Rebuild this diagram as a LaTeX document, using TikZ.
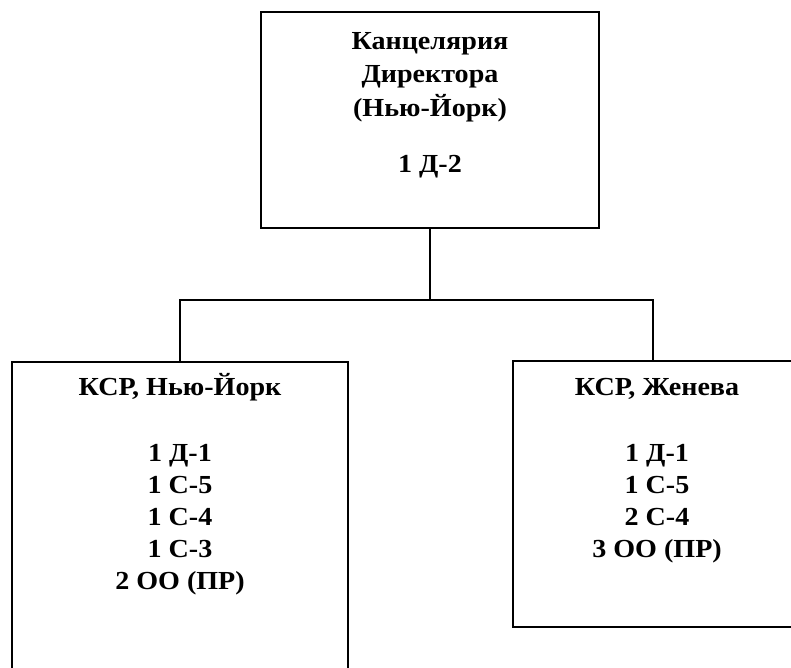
\documentclass[tikz,border=0pt]{standalone}
\usepackage{fontspec}
\setmainfont{Liberation Serif}[FakeStretch=1.08]
\usetikzlibrary{positioning}

\begin{document}
\begin{tikzpicture}[x=1pt,y=1pt,
  box/.style={draw,rectangle,line width=1.6pt,inner sep=0pt},
  txt/.style={align=center,inner sep=0pt,font=\bfseries\fontsize{26}{32}\selectfont}]
\useasboundingbox (0,0) rectangle (791,668);
\clip (0,0) rectangle (791,668);
% Director
\node[box,minimum width=338.5pt,minimum height=216pt] (dir) at (430,548) {};
\node[txt,font=\bfseries\fontsize{26}{33.5}\selectfont,below=161pt of dir.north,anchor=base] (dirtext)
  {Канцелярия\\Директора\\(Нью-Йорк)\\[22.5pt]1 Д-2};
% Offices
\node[box,minimum width=336pt,minimum height=340pt] (ny) at (180,136) {};
\node[txt,below=228pt of ny.north,anchor=base] (nytext)
  {КСР, Нью-Йорк\\[34pt]1 Д-1\\1 С-5\\1 С-4\\1 С-3\\2 ОО (ПР)};
\node[box,minimum width=280pt,minimum height=266pt] (gv) at (653,174) {};
\node[txt,below=197pt of gv.north,anchor=base,xshift=4pt] (gvtext)
  {КСР, Женева\\[34pt]1 Д-1\\1 С-5\\2 С-4\\3 ОО (ПР)};

\coordinate (fork) at (dir.south |- 0,368);
\draw[line width=1.6pt] (dir.south) -- (fork);
\draw[line width=1.6pt] (ny.north) |- (fork) -| (gv.north);
\end{tikzpicture}
\end{document}
